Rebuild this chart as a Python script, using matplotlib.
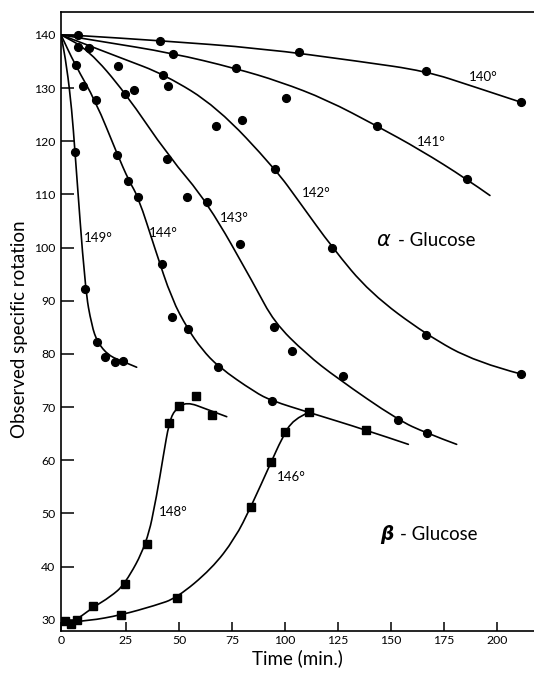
import matplotlib
matplotlib.use("Agg")
import matplotlib.pyplot as plt
from matplotlib.path import Path
from matplotlib.patches import PathPatch

plt.rcParams['font.family'] = ['Lato', 'DejaVu Sans']

# ---------------- data ----------------
# alpha-glucose, observed points (time, rotation)
t140 = [2.2, 41.2, 106.6, 166.4, 211.6]
y140 = [140.0, 138.9, 136.8, 133.2, 127.3]

t141 = [2.2, 47.0, 76.7, 100.3, 143.2, 185.7]
y141 = [137.8, 136.4, 133.7, 128.1, 122.9, 112.9]

t142 = [42.6, 44.9, 67.5, 79.9, 95.4, 122.3, 166.7, 211.6]
y142 = [132.5, 130.4, 122.9, 124.0, 114.8, 100.0, 83.6, 76.2]

t143 = [7.7, 21.4, 24.5, 28.8, 44.5, 53.6, 63.1, 78.8, 94.8, 103.4, 127.5, 153.2, 166.8]
y143 = [137.6, 134.2, 128.9, 129.7, 116.7, 109.5, 108.6, 100.6, 85.0, 80.6, 75.9, 67.6, 65.1]

t144 = [1.3, 4.6, 10.8, 20.6, 26.1, 30.5, 41.8, 46.9, 54.4, 68.5, 93.7]
y144 = [134.4, 130.3, 127.7, 117.5, 112.5, 109.5, 97.0, 87.0, 84.7, 77.6, 71.2]

t149 = [0.9, 5.7, 11.5, 15.1, 19.8, 23.4]
y149 = [118.0, 92.2, 82.2, 79.5, 78.5, 78.6]

# beta-glucose, observed points
t148 = [-3.8, -0.9, 1.7, 9.6, 24.5, 34.8, 45.3, 50.1, 57.9, 65.4]
y148 = [29.8, 29.3, 29.9, 32.6, 36.7, 44.3, 67.1, 70.3, 72.0, 68.5]

t146 = [22.6, 48.9, 84.0, 93.4, 100.0, 111.3, 138.2]
y146 = [30.9, 34.1, 51.3, 59.6, 65.4, 69.0, 65.7]

# smooth curves drawn through the points
c140_t = [-5.7, 2.2, 41.0, 88.2, 135.4, 166.4, 188.8, 211.6]
c140_y = [140.0, 139.9, 138.9, 137.5, 135.0, 133.2, 130.3, 127.3]

c141_t = [-5.7, 12.7, 46.5, 76.7, 97.6, 119.7, 143.2, 163.7, 185.7, 196.7]
c141_y = [140.0, 138.8, 136.6, 133.7, 131.2, 127.8, 122.9, 118.4, 112.9, 109.8]

c142_t = [-5.7, 23.0, 43.4, 67.8, 95.4, 107.1, 122.3, 140.1, 166.7, 190.4, 211.6]
c142_y = [140.0, 135.6, 132.5, 126.5, 114.8, 108.4, 100.0, 91.5, 83.6, 78.4, 76.2]

c143_t = [-5.7, 7.2, 24.5, 45.0, 63.3, 85.8, 94.8, 110.0, 124.4, 153.2, 166.8, 181.0]
c143_y = [140.0, 137.2, 129.2, 117.2, 108.6, 92.8, 86.0, 80.0, 75.5, 67.6, 65.1, 63.0]

c144_t = [-5.7, 0.9, 10.7, 20.6, 26.4, 30.8, 38.7, 46.6, 54.1, 60.7, 68.5, 85.8, 93.7, 111.3, 138.2, 158.2]
c144_y = [140.0, 134.4, 127.5, 117.8, 112.5, 109.5, 99.7, 90.3, 84.7, 80.9, 77.6, 72.8, 71.2, 69.0, 65.7, 63.0]

c149_t = [-5.7, -3.0, -0.6, 0.9, 5.7, 8.8, 11.5, 16.7, 23.4, 30.0]
c149_y = [140.0, 134.1, 125.9, 118.0, 92.2, 85.3, 82.2, 79.7, 78.6, 77.5]

c148_t = [-5.3, -0.9, 9.6, 17.5, 24.5, 34.8, 39.5, 42.6, 45.3, 48.1, 53.6, 63.1, 72.5]
c148_y = [30.0, 29.3, 32.4, 34.3, 36.7, 44.3, 53.4, 60.9, 67.1, 69.6, 71.0, 69.6, 68.2]

c146_t = [-5.3, 7.2, 22.6, 38.7, 48.9, 65.4, 76.4, 84.0, 93.4, 98.4, 103.9, 111.3]
c146_y = [29.6, 29.8, 30.9, 32.7, 34.1, 39.6, 45.3, 51.3, 59.6, 64.0, 67.8, 69.0]

y_ticks = [30, 40, 50, 60, 70, 80, 90, 100, 110, 120, 130, 140]
x_tick_vals = [25, 50, 75, 100, 125, 150, 175, 200]
x_tick_labels = ['0', '25', '50', '75', '100', '125', '150', '175', '200']

# ---------------- figure ----------------
XMIN, XMAX = -5.7, 217.5
YMIN, YMAX = 27.9, 144.3

fig = plt.figure(figsize=(5.34, 6.74), dpi=100)
ax = fig.add_axes([61 / 534, 1 - 631 / 674, 1 - 61 / 534, (631 - 12) / 674])
ax.set_xlim(XMIN, XMAX)
ax.set_ylim(YMIN, YMAX)

LW = 1.2


def smooth(ax, xs, ys):
    pts = list(zip(xs, ys))
    verts = [pts[0]]
    codes = [Path.MOVETO]
    n = len(pts)
    if n == 2:
        verts.append(pts[1]); codes.append(Path.LINETO)
    else:
        verts.append(((pts[0][0] + pts[1][0]) / 2, (pts[0][1] + pts[1][1]) / 2))
        codes.append(Path.LINETO)
        for i in range(1, n - 1):
            ctrl = pts[i]
            if i < n - 2:
                end = ((pts[i][0] + pts[i + 1][0]) / 2, (pts[i][1] + pts[i + 1][1]) / 2)
            else:
                end = pts[n - 1]
            verts += [ctrl, end]
            codes += [Path.CURVE3, Path.CURVE3]
    patch = PathPatch(Path(verts, codes), facecolor='none', edgecolor='black',
                      lw=LW, capstyle='round', joinstyle='round', zorder=2)
    ax.add_patch(patch)


for ct, cy in [(c140_t, c140_y), (c141_t, c141_y), (c142_t, c142_y), (c143_t, c143_y),
               (c144_t, c144_y), (c149_t, c149_y), (c148_t, c148_y), (c146_t, c146_y)]:
    smooth(ax, ct, cy)

for tt, yy in [(t140, y140), (t141, y141), (t142, y142), (t143, y143), (t144, y144), (t149, y149)]:
    ax.plot(tt, yy, linestyle='none', marker='o', ms=5.6, color='black', mec='black', zorder=3)
for tt, yy in [(t148, y148), (t146, y146)]:
    ax.plot(tt, yy, linestyle='none', marker='s', ms=5.8, color='black', mec='black', zorder=3)

# curve labels
lab_fs = 9.5
for txt, x, y in [('140°', 193.4, 132.0), ('141°', 169.2, 119.9), ('142°', 114.9, 110.3),
                  ('143°', 76.1, 105.5), ('144°', 42.6, 102.8), ('149°', 11.9, 101.8),
                  ('148°', 47.3, 50.2), ('146°', 103.2, 56.9)]:
    ax.text(x, y, txt, fontsize=lab_fs, ha='center', va='center')

ax.text(143.3, 100.38, 'α', fontsize=15, style='italic', ha='left', va='baseline',
        family=['DejaVu Sans'])
ax.text(153.3, 100.38, '- Glucose', fontsize=13.4, ha='left', va='baseline')
ax.text(144.8, 45.04, 'β', fontsize=13.4, style='italic', weight='bold', ha='left', va='baseline',
        family=['DejaVu Sans'])
ax.text(154.2, 45.04, '- Glucose', fontsize=13.4, ha='left', va='baseline')

# axes styling
ax.spines['right'].set_visible(False)
for s in ['left', 'top', 'bottom']:
    ax.spines[s].set_linewidth(1.2)

ax.set_yticks(y_ticks)
ax.set_yticklabels([str(v) for v in y_ticks])
ax.set_xticks([XMIN] + x_tick_vals)
ax.set_xticklabels(x_tick_labels)
ax.tick_params(axis='y', direction='in', length=9, width=1.1, pad=4, labelsize=8.8)
ax.tick_params(axis='x', direction='in', length=6.5, width=1.1, pad=3, labelsize=8.8)

ax.set_ylabel('Observed specific rotation', fontsize=13.5, labelpad=6)
ax.set_xlabel('Time (min.)', fontsize=13.5, labelpad=2)
ax.yaxis.set_label_coords(-0.07, 0.488)

fig.savefig('out.png', dpi=100)
